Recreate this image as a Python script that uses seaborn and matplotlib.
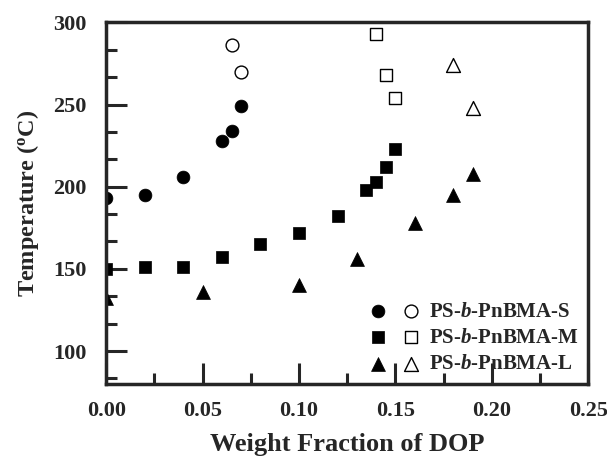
import matplotlib
matplotlib.use("Agg")
import matplotlib.pyplot as plt
import seaborn as sns
from matplotlib.legend_handler import HandlerTuple
from matplotlib.ticker import MultipleLocator

# PS-b-PnBMA-S
s_x = [0.00, 0.02, 0.04, 0.06, 0.065, 0.07]
s_y = [193, 195, 206, 228, 234, 249]
s_open_x = [0.065, 0.07]
s_open_y = [286, 270]

# PS-b-PnBMA-M
m_x = [0.00, 0.02, 0.04, 0.06, 0.08, 0.10, 0.12, 0.135, 0.14, 0.145, 0.15]
m_y = [150, 151, 151, 157, 165, 172, 182, 198, 203, 212, 223]
m_open_x = [0.14, 0.145, 0.15]
m_open_y = [293, 268, 254]

# PS-b-PnBMA-L
l_x = [0.00, 0.05, 0.10, 0.13, 0.16, 0.18, 0.19]
l_y = [132, 136, 140, 156, 178, 195, 208]
l_open_x = [0.18, 0.19]
l_open_y = [274, 248]

labels = ["PS-$\\mathit{b}$-PnBMA-S", "PS-$\\mathit{b}$-PnBMA-M", "PS-$\\mathit{b}$-PnBMA-L"]

sns.set_style("ticks")
plt.rcParams["font.family"] = ["Liberation Serif", "DejaVu Serif"]
plt.rcParams["font.weight"] = "bold"
plt.rcParams["mathtext.fontset"] = "custom"
plt.rcParams["mathtext.rm"] = "Liberation Serif:bold"
plt.rcParams["mathtext.it"] = "Liberation Serif:italic:bold"

fig, ax = plt.subplots(figsize=(6.07, 4.57), dpi=100)
fig.subplots_adjust(left=0.175, right=0.969, top=0.951, bottom=0.16)

groups = [
    (s_x, s_y, s_open_x, s_open_y, "o", 85),
    (m_x, m_y, m_open_x, m_open_y, "s", 70),
    (l_x, l_y, l_open_x, l_open_y, "^", 100),
]
handles = []
for fx, fy, ox, oy, mk, size in groups:
    sns.scatterplot(x=fx, y=fy, marker=mk, s=size, color="black",
                    edgecolor="black", linewidth=0.5, ax=ax)
    h_fill = ax.collections[-1]
    sns.scatterplot(x=ox, y=oy, marker=mk, s=size, color="white",
                    edgecolor="black", linewidth=1.0, ax=ax)
    h_open = ax.collections[-1]
    handles.append((h_fill, h_open))

ax.set_xlim(0, 0.25)
ax.set_ylim(80, 300)
ax.xaxis.set_major_locator(MultipleLocator(0.05))
ax.xaxis.set_minor_locator(MultipleLocator(0.025))
ax.yaxis.set_major_locator(MultipleLocator(50))
ax.yaxis.set_minor_locator(MultipleLocator(50 / 3))
ax.yaxis.set_major_formatter(matplotlib.ticker.FuncFormatter(lambda v, p: f"{v:.0f}"))
ax.xaxis.set_major_formatter(matplotlib.ticker.FuncFormatter(lambda v, p: f"{v:.2f}"))

ax.tick_params(which="major", direction="in", length=15, width=2.2, labelsize=16)
ax.tick_params(axis="x", which="major", pad=12)
ax.tick_params(axis="y", which="major", pad=14)
ax.tick_params(which="minor", direction="in", length=8, width=2.2)
for sp in ax.spines.values():
    sp.set_linewidth(2.5)

ax.set_xlabel("Weight Fraction of DOP", fontsize=19, fontweight="bold", labelpad=9)
ax.set_ylabel("Temperature ($^{\\mathrm{o}}$C)", fontsize=17.5, fontweight="bold", labelpad=9)

ax.legend(handles, labels, handler_map={tuple: HandlerTuple(ndivide=None, pad=1.0)},
          loc="lower right", bbox_to_anchor=(0.998, 0.004), frameon=False, fontsize=15,
          handlelength=2.2, handletextpad=0.55, labelspacing=0.3, borderaxespad=0.0)

fig.savefig("out.png", dpi=100)
